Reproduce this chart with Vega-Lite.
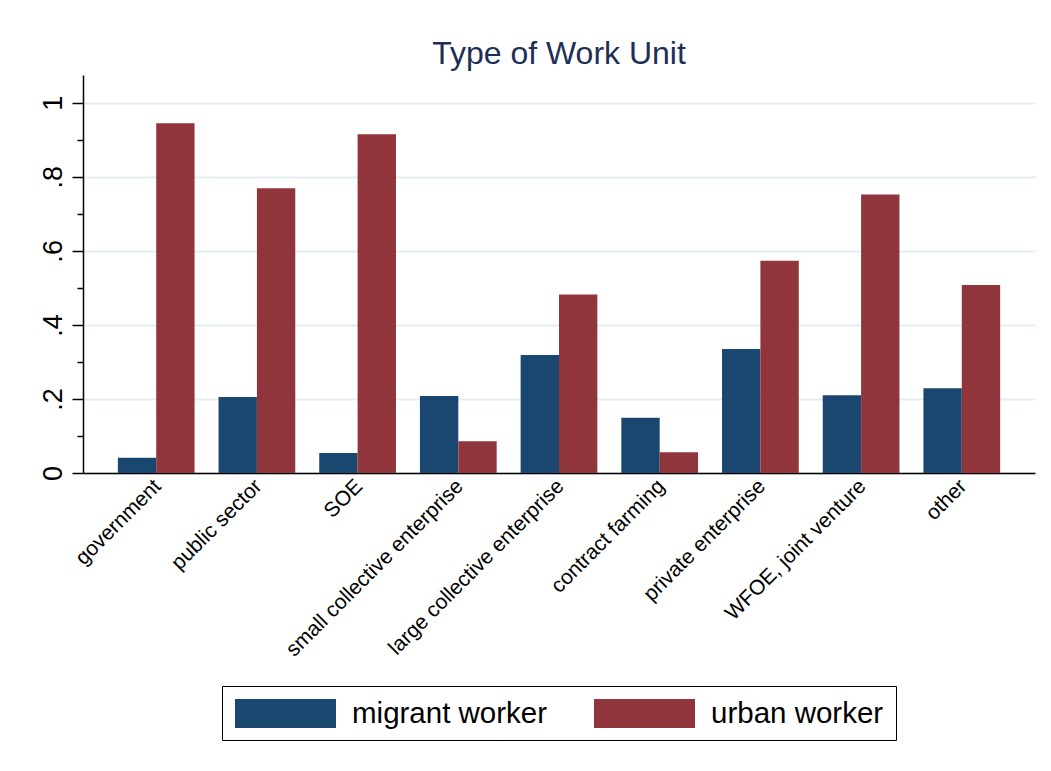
{
  "$schema": "https://vega.github.io/schema/vega-lite/v6.json",
  "autosize": {"type": "none"},
  "width": 952,
  "height": 398,
  "padding": {"left": 83, "top": 75, "right": 16, "bottom": 298},
  "background": "white",
  "title": {
    "text": "Type of Work Unit",
    "font": "Liberation Sans",
    "fontSize": 32,
    "fontWeight": "normal",
    "color": "#1e2f56",
    "anchor": "middle",
    "offset": 4
  },
  "data": {
    "values": [
      {"unit": "government", "group": "migrant worker", "share": 0.041},
      {"unit": "government", "group": "urban worker", "share": 0.945},
      {"unit": "public sector", "group": "migrant worker", "share": 0.205},
      {"unit": "public sector", "group": "urban worker", "share": 0.769},
      {"unit": "SOE", "group": "migrant worker", "share": 0.054},
      {"unit": "SOE", "group": "urban worker", "share": 0.915},
      {"unit": "small collective enterprise", "group": "migrant worker", "share": 0.208},
      {"unit": "small collective enterprise", "group": "urban worker", "share": 0.086},
      {"unit": "large collective enterprise", "group": "migrant worker", "share": 0.319},
      {"unit": "large collective enterprise", "group": "urban worker", "share": 0.482},
      {"unit": "contract farming", "group": "migrant worker", "share": 0.149},
      {"unit": "contract farming", "group": "urban worker", "share": 0.056},
      {"unit": "private enterprise", "group": "migrant worker", "share": 0.335},
      {"unit": "private enterprise", "group": "urban worker", "share": 0.573},
      {"unit": "WFOE, joint venture", "group": "migrant worker", "share": 0.21},
      {"unit": "WFOE, joint venture", "group": "urban worker", "share": 0.752},
      {"unit": "other", "group": "migrant worker", "share": 0.229},
      {"unit": "other", "group": "urban worker", "share": 0.508}
    ]
  },
  "layer": [
    {
      "mark": {"type": "bar"},
      "encoding": {
        "x": {
          "field": "unit",
          "type": "nominal",
          "sort": null,
          "scale": {"paddingInner": 0.238, "paddingOuter": 0.346},
          "axis": {
            "title": null,
            "labelAngle": -45,
            "labelFont": "Liberation Sans",
            "labelFontSize": 21,
            "labelColor": "black",
            "labelPadding": 2,
            "labelOffset": -6,
            "labelLimit": 500,
            "ticks": false,
            "domainColor": "black",
            "domainWidth": 1.5,
            "grid": false
          }
        },
        "xOffset": {
          "field": "group",
          "type": "nominal"
        },
        "y": {
          "field": "share",
          "type": "quantitative",
          "scale": {"domain": [0, 1.075], "nice": false},
          "axis": {
            "title": null,
            "orient": "left",
            "values": [0, 0.2, 0.4, 0.6, 0.8, 1],
            "labelExpr": "datum.value == 0 ? '0' : datum.value == 1 ? '1' : replace(format(datum.value, '.1f'), '0.', '.')",
            "labelAngle": -90,
            "labelFont": "Liberation Sans",
            "labelFontSize": 27,
            "labelColor": "black",
            "labelPadding": 5,
            "tickColor": "black",
            "tickWidth": 1.5,
            "tickSize": 11,
            "domainColor": "black",
            "domainWidth": 1.5,
            "grid": true,
            "gridColor": "#e4edf1",
            "gridWidth": 2
          }
        },
        "color": {
          "field": "group",
          "type": "nominal",
          "scale": {"domain": ["migrant worker", "urban worker"], "range": ["#1a476f", "#90353b"]},
          "legend": {
            "title": null,
            "orient": "none",
            "legendX": 139,
            "legendY": 611,
            "direction": "horizontal",
            "symbolType": "M-1,-1L5.966,-1L5.966,1L-1,1Z",
            "symbolSize": 841,
            "labelFont": "Liberation Sans",
            "labelFontSize": 29.5,
            "labelColor": "black",
            "labelOffset": 87,
            "labelLimit": 500,
            "columnPadding": 45,
            "padding": 12,
            "strokeColor": "black",
            "fillColor": "white"
          }
        }
      }
    },
    {
      "mark": {"type": "tick", "opacity": 0},
      "encoding": {
        "y": {
          "field": "share",
          "type": "quantitative",
          "axis": {
            "title": null,
            "orient": "left",
            "values": [0.1, 0.3, 0.5, 0.7, 0.9],
            "labels": false,
            "domain": false,
            "grid": false,
            "tickColor": "black",
            "tickWidth": 1.5,
            "tickSize": 6
          }
        }
      }
    }
  ],
  "resolve": {"axis": {"y": "independent"}},
  "config": {
    "view": {"stroke": null},
    "font": "Liberation Sans"
  }
}
